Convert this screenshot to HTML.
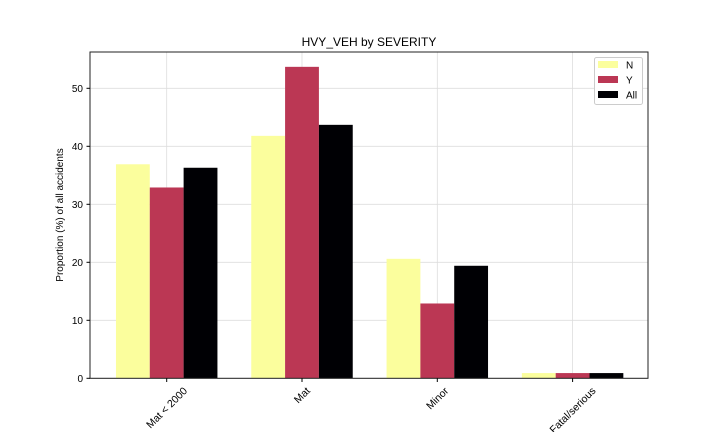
<!DOCTYPE html>
<html><head><meta charset="utf-8"><style>
body{margin:0;background:#fff;font-family:"Liberation Sans","DejaVu Sans",sans-serif;}
</style></head><body>
<svg id="chart" width="720" height="432" xmlns="http://www.w3.org/2000/svg" font-family="Liberation Sans, DejaVu Sans, sans-serif">
<g id="grid"></g>
<g id="bars"></g>
<rect x="90" y="52" width="558" height="326.3" fill="none" stroke="#222" stroke-width="1"/>
<g id="yticks"></g>
<g id="xticks"></g>
<text x="369" y="46" text-anchor="middle" font-size="12" fill="#000">HVY_VEH by SEVERITY</text>
<text transform="translate(63,215) rotate(-90)" text-anchor="middle" font-size="10" fill="#000">Proportion (%) of all accidents</text>
<g id="legend">
<rect x="594.5" y="57.5" width="48" height="47" rx="2" fill="#fff" stroke="#ccc"/>
</g>
</svg>
<script>
const categories = ["Mat < 2000", "Mat", "Minor", "Fatal/serious"];
const seriesNames = ["N", "Y", "All"];
const valuesN = [36.9, 41.8, 20.6, 0.9];
const valuesY = [32.9, 53.7, 12.9, 0.9];
const valuesAll = [36.3, 43.7, 19.4, 0.9];
const yTicks = [0, 10, 20, 30, 40, 50];
const colors = ["#fbfe9d", "#bb3754", "#000004"];
const NS = "http://www.w3.org/2000/svg";
const x = i => 166.7 + 135.3 * i;
const y = v => 378.3 - 5.8 * v;
function mk(tag, attrs, parent){const e=document.createElementNS(NS,tag);for(const k in attrs)e.setAttribute(k,attrs[k]);parent.appendChild(e);return e;}
const grid=document.getElementById('grid'), bars=document.getElementById('bars'), yt=document.getElementById('yticks'), xt=document.getElementById('xticks'), lg=document.getElementById('legend');
yTicks.forEach(t=>{
  const g=mk('line',{x1:90,x2:648,y1:y(t),y2:y(t),stroke:'#ddd','stroke-width':0.8},grid);
  
  
  const tk=mk('line',{x1:86.5,x2:90,y1:y(t),y2:y(t),stroke:'#000'},yt);
  
  
  const lb=mk('text',{x:83,y:y(t)+3.5,'text-anchor':'end','font-size':10},yt);
  lb.textContent=t;
  
  
});
categories.forEach((c,i)=>{
  const g=mk('line',{x1:x(i),x2:x(i),y1:52,y2:378.3,stroke:'#ddd','stroke-width':0.8},grid);
  
  
  const tk=mk('line',{x1:x(i),x2:x(i),y1:378.3,y2:382,stroke:'#000'},xt);
  
  
  const lb=mk('text',{'text-anchor':'middle','font-size':10.5},xt);
  lb.textContent=c;
  
  
  const L=lb.getComputedTextLength();
  const h=L*0.707+8;
  lb.setAttribute('transform',`translate(${x(i)},${385+h/2}) rotate(-45) translate(0,3.5)`);
});
const series=[valuesN,valuesY,valuesAll];
const bw=135.3*0.25;
series.forEach((vals,s)=>{
  vals.forEach((v,i)=>{
    const cx=x(i)+(s-1)*bw;
    const r=mk('rect',{x:cx-bw/2,y:y(v),width:bw,height:y(0)-y(v),fill:colors[s]},bars);
    
    
  });
  const p=mk('rect',{x:598,y:61+s*15,width:20,height:7,fill:colors[s]},lg);
  
  
  const t=mk('text',{x:626,y:68.5+s*15,'font-size':10},lg);
  t.textContent=seriesNames[s];
  
  
});
</script>
</body></html>
